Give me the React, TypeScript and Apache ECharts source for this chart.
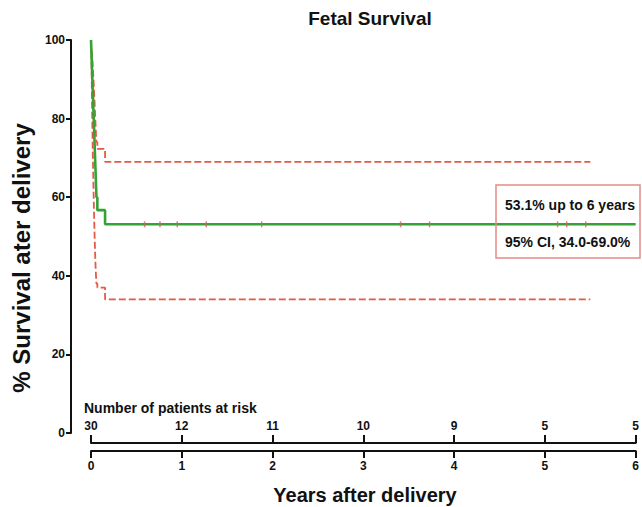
import React, { useEffect, useRef } from "react";
import * as echarts from "echarts";

// Kaplan–Meier estimate (years, % survival)
const survTimes = [0, 0.005, 0.01, 0.015, 0.02, 0.025, 0.03, 0.035, 0.04, 0.045, 0.05, 0.055, 0.06, 0.07, 0.155, 6];
const survValues = [100, 96.7, 93.3, 90.0, 86.7, 83.3, 80.0, 76.7, 73.3, 70.0, 66.7, 63.3, 60.0, 56.7, 53.1, 53.1];

// 95% confidence band
const ciTimes = [0.005, 0.01, 0.015, 0.02, 0.025, 0.03, 0.035, 0.04, 0.045, 0.05, 0.055, 0.06, 0.07, 0.155, 5.5];
const ciUpper = [97.5, 96.5, 95.0, 93.2, 91.0, 88.7, 86.3, 83.8, 81.2, 78.6, 76.0, 74.0, 72.3, 69.0, 69.0];
const ciLower = [97.0, 86.0, 78.0, 71.0, 65.0, 59.5, 54.5, 50.0, 46.0, 42.5, 40.0, 38.0, 37.0, 34.0, 34.0];

// censored observations
const censorTimes = [0.59, 0.76, 0.95, 1.27, 1.88, 3.41, 3.73, 5.14, 5.24, 5.45];
const censorValue = 53.1;

// number at risk
const riskTimes = [0, 1, 2, 3, 4, 5, 6];
const riskCounts = [30, 12, 11, 10, 9, 5, 5];

const yTicks = [0, 20, 40, 60, 80, 100];

const FONT = "'Liberation Sans', Arial, Helvetica, sans-serif";
const GREEN = "#35a235";
const RED = "#e55a45";

export default function App() {
  const ref = useRef<HTMLDivElement>(null);
  useEffect(() => {
    if (!ref.current) return;
    const chart = echarts.init(ref.current, undefined, { renderer: "svg" });
    const pair = (xs: number[], ys: number[]) => xs.map((x, i) => [x, ys[i]]);
    chart.setOption({
      animation: false,
      backgroundColor: "#ffffff",
      textStyle: { fontFamily: FONT },
      title: {
        text: "Fetal Survival",
        left: 365,
        top: 4,
        textAlign: "center",
        textStyle: { fontFamily: FONT, fontSize: 19, fontWeight: "bold", color: "#111" },
      },
      grid: { left: 91, right: 5, top: 40, bottom: 74 },
      xAxis: [
        {
          type: "value",
          min: 0,
          max: 6,
          interval: 1,
          position: "bottom",
          offset: 18,
          axisLine: { show: true, onZero: false, lineStyle: { color: "#111", width: 2 } },
          axisTick: { show: true, length: 7, lineStyle: { color: "#111", width: 2 } },
          axisLabel: { show: true, margin: 9, fontSize: 12, fontWeight: "bold", color: "#111", fontFamily: FONT },
          splitLine: { show: false },
        },
        {
          type: "value",
          min: 0,
          max: 6,
          interval: 1,
          position: "bottom",
          offset: 10,
          axisLine: { show: true, onZero: false, lineStyle: { color: "#111", width: 2 } },
          axisTick: { show: true, inside: true, length: 8, lineStyle: { color: "#111", width: 2 } },
          axisLabel: {
            show: true,
            inside: true,
            margin: 11,
            fontSize: 12,
            fontWeight: "bold",
            color: "#111",
            fontFamily: FONT,
            formatter: (v: number) => {
              const i = riskTimes.indexOf(v);
              return i >= 0 ? String(riskCounts[i]) : "";
            },
          },
          splitLine: { show: false },
        },
      ],
      yAxis: {
        type: "value",
        min: yTicks[0],
        max: yTicks[yTicks.length - 1],
        interval: 20,
        offset: 20,
        axisLine: { show: true, onZero: false, lineStyle: { color: "#111", width: 2 } },
        axisTick: { show: true, length: 5, lineStyle: { color: "#111", width: 2 } },
        axisLabel: { margin: 6, fontSize: 12, fontWeight: "bold", color: "#111", fontFamily: FONT },
        splitLine: { show: false },
      },
      series: [
        {
          type: "line",
          name: "Upper CI",
          xAxisIndex: 0,
          step: "end",
          data: pair(ciTimes, ciUpper),
          showSymbol: false,
          lineStyle: { color: RED, width: 1.8, type: [7, 3] },
          z: 2,
        },
        {
          type: "line",
          name: "Lower CI",
          xAxisIndex: 0,
          step: "end",
          data: pair(ciTimes, ciLower),
          showSymbol: false,
          lineStyle: { color: RED, width: 1.8, type: [7, 3] },
          z: 2,
        },
        {
          type: "line",
          name: "Survival",
          xAxisIndex: 0,
          step: "end",
          data: pair(survTimes, survValues),
          showSymbol: false,
          lineStyle: { color: GREEN, width: 2.6 },
          z: 3,
        },
        {
          type: "scatter",
          name: "Censored",
          xAxisIndex: 0,
          data: censorTimes.map((t) => [t, censorValue]),
          symbol: "rect",
          symbolSize: [1.5, 6],
          itemStyle: { color: "#c8655a" },
          z: 4,
        },
      ],
      graphic: [
        {
          type: "text",
          x: 21,
          y: 258,
          rotation: Math.PI / 2,
          style: {
            text: "% Survival ater delivery",
            font: `bold 24px ${FONT}`,
            fill: "#111",
            align: "center",
            verticalAlign: "middle",
          },
        },
        {
          type: "text",
          x: 365,
          y: 495,
          style: {
            text: "Years after delivery",
            font: `bold 20px ${FONT}`,
            fill: "#111",
            align: "center",
            verticalAlign: "middle",
          },
        },
        {
          type: "text",
          x: 84,
          y: 408,
          style: {
            text: "Number of patients at risk",
            font: `bold 14px ${FONT}`,
            fill: "#111",
            align: "left",
            verticalAlign: "middle",
          },
        },
        {
          type: "rect",
          shape: { x: 496, y: 185, width: 144, height: 73 },
          style: { fill: "rgba(255,255,255,0)", stroke: "#e58a82", lineWidth: 1.5 },
          z: 10,
        },
        {
          type: "text",
          x: 505,
          y: 205,
          style: {
            text: "53.1% up to 6 years",
            font: `bold 14px ${FONT}`,
            fill: "#111",
            align: "left",
            verticalAlign: "middle",
          },
          z: 10,
        },
        {
          type: "text",
          x: 505,
          y: 242,
          style: {
            text: "95% CI, 34.0-69.0%",
            font: `bold 14px ${FONT}`,
            fill: "#111",
            align: "left",
            verticalAlign: "middle",
          },
          z: 10,
        },
      ],
    });
    return () => chart.dispose();
  }, []);
  return (
    <div
      ref={ref}
      style={{ position: "fixed", left: 0, top: 0, width: 642, height: 507, background: "#fff" }}
    />
  );
}
